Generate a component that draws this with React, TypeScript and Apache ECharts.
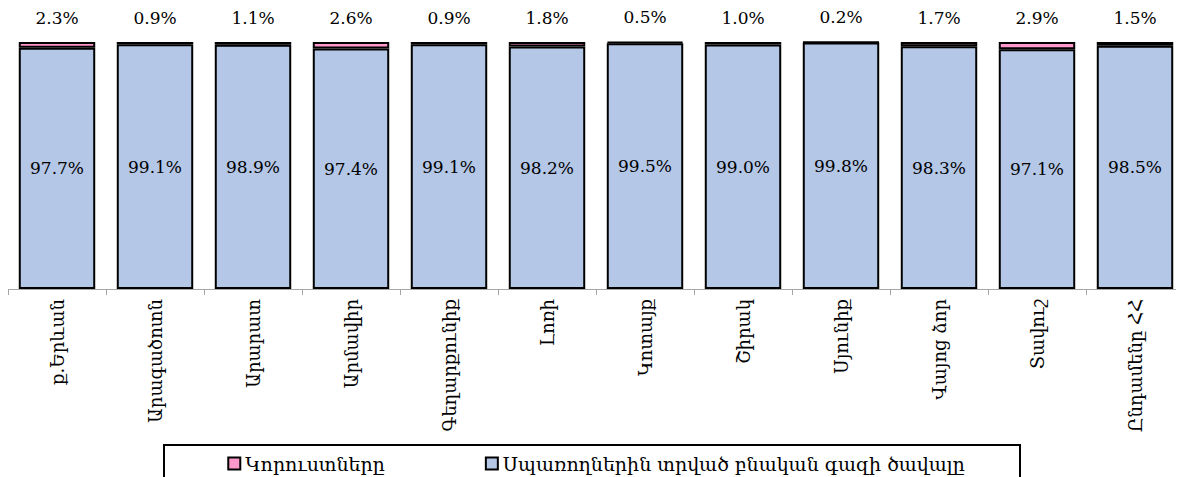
import React, { useEffect, useRef } from "react";
import * as echarts from "echarts";

const categories = [
  "ք.Երևան",
  "Արագածոտն",
  "Արարատ",
  "Արմավիր",
  "Գեղարքունիք",
  "Լոռի",
  "Կոտայք",
  "Շիրակ",
  "Սյունիք",
  "Վայոց ձոր",
  "Տավուշ",
  "Ընդամենը ՀՀ",
];
const supplied = [97.7, 99.1, 98.9, 97.4, 99.1, 98.2, 99.5, 99.0, 99.8, 98.3, 97.1, 98.5];
const losses = [2.3, 0.9, 1.1, 2.6, 0.9, 1.8, 0.5, 1.0, 0.2, 1.7, 2.9, 1.5];
const lossName = "Կորուստները";
const suppliedName = "Սպառողներին տրված բնական գազի ծավալը";

const FONT = "'DejaVu Serif', 'Liberation Serif', serif";

export default function App() {
  const ref = useRef<HTMLDivElement>(null);
  useEffect(() => {
    if (!ref.current) return;
    const chart = echarts.init(ref.current, null, { renderer: "svg" });
    chart.setOption({
      animation: false,
      textStyle: { fontFamily: FONT },
      grid: { left: 0, right: 0, top: 34, bottom: 188 },
      xAxis: {
        type: "category",
        data: categories,
        axisLine: { lineStyle: { color: "#A6A6A6", width: 1 } },
        axisTick: { show: true, length: 6, lineStyle: { color: "#A6A6A6" } },
        axisLabel: {
          rotate: 90,
          interval: 0,
          margin: 10,
          fontSize: 18,
          color: "#000",
          fontFamily: FONT,
        },
      },
      yAxis: {
        type: "value",
        min: 0,
        max: 100,
        show: false,
        splitLine: { show: false },
      },
      legend: {
        data: [
          { name: lossName, icon: "rect" },
          { name: suppliedName, icon: "rect" },
        ],
        left: "center",
        top: 441,
        itemWidth: 12,
        itemHeight: 12,
        itemGap: 100,
        itemStyle: { borderColor: "#000", borderWidth: 2 },
        textStyle: { fontSize: 19, color: "#000", fontFamily: FONT },
      },
      graphic: [
        {
          type: "rect",
          shape: { x: 156, y: 437, width: 856, height: 60 },
          style: { fill: "none", stroke: "#000", lineWidth: 2 },
          silent: true,
        },
      ],
      series: [
        {
          name: suppliedName,
          type: "bar",
          stack: "total",
          data: supplied,
          barCategoryGap: "22%",
          itemStyle: { color: "#B4C7E7", borderColor: "#000", borderWidth: 2 },
          label: {
            show: true,
            position: "inside",
            fontSize: 17,
            color: "#000",
            fontFamily: FONT,
            formatter: (p: any) => p.value.toFixed(1) + "%",
          },
        },
        {
          name: lossName,
          type: "bar",
          stack: "total",
          data: losses,
          barCategoryGap: "22%",
          itemStyle: { color: "#FF99CC", borderColor: "#000", borderWidth: 2 },
          label: {
            show: true,
            position: "top",
            distance: 16,
            fontSize: 17,
            color: "#000",
            fontFamily: FONT,
            formatter: (p: any) => p.value.toFixed(1) + "%",
          },
        },
      ],
    });
    return () => chart.dispose();
  }, []);
  return <div ref={ref} style={{ width: 1176, height: 469 }} />;
}
